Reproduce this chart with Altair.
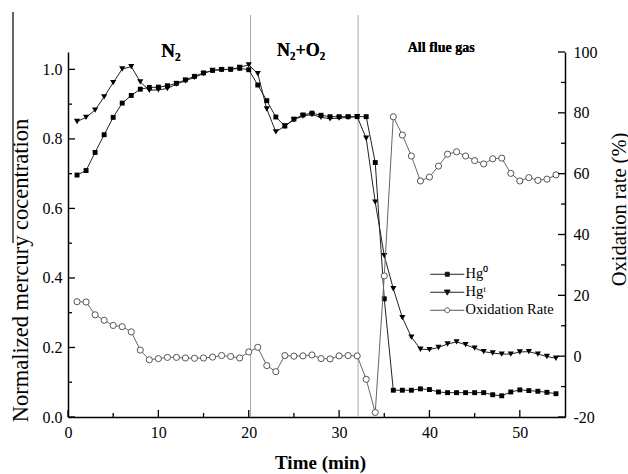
import altair as alt
import pandas as pd

# ---------------- data ----------------
time = list(range(1, 55))
hg0 = [0.696, 0.709, 0.761, 0.812, 0.862, 0.903, 0.925, 0.943, 0.948, 0.949,
       0.953, 0.960, 0.970, 0.980, 0.990, 0.997, 1.000, 1.000, 1.003, 0.999,
       0.955, 0.910, 0.863, 0.837, 0.857, 0.869, 0.874, 0.868, 0.864, 0.864,
       0.864, 0.864, 0.864, 0.732, 0.340, 0.077, 0.077, 0.077, 0.081, 0.079,
       0.072, 0.070, 0.070, 0.070, 0.070, 0.070, 0.064, 0.061, 0.072, 0.078,
       0.076, 0.074, 0.071, 0.067]
hgt = [0.850, 0.862, 0.883, 0.921, 0.962, 1.001, 1.008, 0.964, 0.940, 0.941,
       0.945, 0.958, 0.967, 0.977, 0.988, 0.997, 0.999, 1.000, 1.006, 1.013,
       0.988, 0.886, 0.820, 0.837, 0.855, 0.866, 0.870, 0.862, 0.858, 0.860,
       0.862, 0.864, 0.802, 0.618, 0.464, 0.369, 0.286, 0.230, 0.195, 0.194,
       0.200, 0.210, 0.216, 0.208, 0.198, 0.188, 0.184, 0.181, 0.181, 0.187,
       0.188, 0.181, 0.174, 0.169]
ox = [17.9, 17.8, 13.6, 11.8, 10.1, 9.7, 8.0, 2.0, -1.2, -0.8,
      -0.4, -0.4, -0.6, -0.7, -0.6, -0.3, 0.2, -0.1, -0.6, 1.4,
      2.9, -3.1, -5.1, 0.2, 0.0, 0.1, 0.4, -0.8, -0.9, 0.1,
      0.2, 0.1, -7.6, -18.5, 26.4, 78.7, 72.7, 65.8, 57.6, 58.9,
      62.5, 66.4, 67.2, 65.8, 64.3, 63.2, 64.9, 65.1, 60.1, 57.6,
      58.7, 57.8, 58.2, 59.6]

series_names = ["Hg\u2070", "Hg\u1d57", "Oxidation Rate"]
x_major = [0, 10, 20, 30, 40, 50]
x_minor = [5, 15, 25, 35, 45]
left_major = [0.0, 0.2, 0.4, 0.6, 0.8, 1.0]
left_minor = [0.1, 0.3, 0.5, 0.7, 0.9]
right_major = [-20, 0, 20, 40, 60, 80, 100]
right_minor = [-10, 10, 30, 50, 70, 90]
phase_bounds = [20.2, 32.1]
phase_labels = ["N\u2082", "N\u2082+O\u2082", "All flue gas"]

# ---------------- tables ----------------
df_hg0 = pd.DataFrame({"time": time, "value": hg0, "series": series_names[0]})
df_hgt = pd.DataFrame({"time": time, "value": hgt, "series": series_names[1]})
df_hg = pd.concat([df_hg0, df_hgt], ignore_index=True)
df_ox = pd.DataFrame({"time": time, "rate": ox})
df_bounds = pd.DataFrame({"time": phase_bounds})
df_xmaj = pd.DataFrame({"time": x_major})
df_xmin = pd.DataFrame({"time": x_minor})
df_lmaj = pd.DataFrame({"value": left_major})
df_lmin = pd.DataFrame({"value": left_minor})
df_rmaj = pd.DataFrame({"rate": right_major})
df_rmin = pd.DataFrame({"rate": right_minor})

W, H = 497, 365
FONT = "Liberation Serif, Times New Roman, serif"
MAJ, MIN = 7, 4

x_enc = alt.X(
    "time:Q",
    scale=alt.Scale(domain=[0, 55], nice=False, zero=False),
    axis=alt.Axis(values=x_major, title="Time (min)", titleFontWeight="bold",
                  titleFont=FONT, labelFont=FONT,
                  titleFontSize=19, titleX=252, titleY=45, titleAlign="center",
                  titleBaseline="middle", labelPadding=7, labelFontSize=16,
                  labelFlush=False),
)
yl_enc = alt.Y(
    "value:Q",
    scale=alt.Scale(domain=[0, 1.05], nice=False, zero=False),
    axis=alt.Axis(orient="left", values=left_major, format=".1f",
                  titleFont=FONT, labelFont=FONT,
                  title="Normalized mercury cocentration", titleFontWeight="normal",
                  titleFontSize=22.5, titleAngle=270, titleX=-48, titleY=218,
                  titleAlign="center", titleBaseline="middle",
                  labelPadding=6, labelFontSize=16),
)
yr_enc = alt.Y(
    "rate:Q",
    scale=alt.Scale(domain=[-20, 100], nice=False, zero=False),
    axis=alt.Axis(orient="right", values=right_major, labelExpr="'' + datum.value",
                  titleFont=FONT, labelFont=FONT,
                  title="Oxidation rate (%)", titleFontWeight="normal",
                  titleFontSize=20.5, titleAngle=270, titleX=54, titleY=157,
                  titleAlign="center", titleBaseline="middle",
                  labelPadding=8, labelFontSize=16),
)

# legend glyphs: a 34 px line with the marker in its middle (symbol size 10 px)
sym_sq = "M-3.4,0L3.4,0M-0.4,-0.4L0.4,-0.4L0.4,0.4L-0.4,0.4Z"
sym_tri = "M-3.4,0L3.4,0M-0.58,-0.45L0.58,-0.45L0,0.58Z"
sym_circ = ("M-3.4,0L-0.5,0M0.5,0L3.4,0M0.5,0A0.5,0.5 0 1,1 -0.5,0"
            "A0.5,0.5 0 1,1 0.5,0Z")

leg = alt.Legend(orient="none", legendX=372, legendY=215, title=None,
                 labelFont=FONT, labelFontSize=14.5, labelColor="black",
                 symbolSize=100, symbolStrokeWidth=1, gridAlign="all",
                 symbolOpacity=1, labelOffset=11, padding=0, rowPadding=3)

# ---------------- left layers ----------------
hg_lines = alt.Chart(df_hg).mark_line(color="#222", strokeWidth=1).encode(
    x=x_enc, y=yl_enc, detail="series:N")
hg0_pts = alt.Chart(df_hg0).mark_point(shape="square", filled=True, color="black",
                                       size=24, opacity=1).encode(x=x_enc, y=yl_enc)
hgt_pts = alt.Chart(df_hgt).mark_point(shape="triangle-down", filled=True,
                                       color="black", size=38, opacity=1).encode(
    x=x_enc, y=yl_enc)
# legend-only layer: no rows drawn, entries come from the explicit scale domain
legend_layer = alt.Chart(df_hg).transform_filter("datum.time < 0").mark_point(
    filled=True, strokeWidth=1, opacity=1).encode(
    x=x_enc, y=yl_enc,
    shape=alt.Shape("series:N", scale=alt.Scale(domain=series_names,
                                                  range=[sym_sq, sym_tri, sym_circ]),
                    legend=leg),
    fill=alt.Fill("series:N", scale=alt.Scale(domain=series_names,
                                                range=["black", "black", "white"]),
                  legend=leg),
    stroke=alt.Stroke("series:N", scale=alt.Scale(domain=series_names,
                                                    range=["#222", "#222", "#555"]),
                      legend=leg),
)
bounds = alt.Chart(df_bounds).mark_rule(color="#a8a8a8", strokeWidth=1).encode(
    x=x_enc, y=alt.value(-37), y2=alt.value(H))
xt_maj = alt.Chart(df_xmaj).mark_rule(color="black", strokeWidth=1.3).encode(
    x=x_enc, y=alt.value(H), y2=alt.value(H - MAJ))
xt_min = alt.Chart(df_xmin).mark_rule(color="black", strokeWidth=1.3).encode(
    x=x_enc, y=alt.value(H), y2=alt.value(H - MIN))
lt_maj = alt.Chart(df_lmaj).mark_rule(color="black", strokeWidth=1.3).encode(
    y=yl_enc, x=alt.value(0), x2=alt.value(MAJ))
lt_min = alt.Chart(df_lmin).mark_rule(color="black", strokeWidth=1.3).encode(
    y=yl_enc, x=alt.value(0), x2=alt.value(MIN))
ann1 = alt.Chart(df_bounds).mark_text(text=phase_labels[0], font=FONT, fontSize=19,
                                      fontWeight="bold", color="black",
                                      align="center", baseline="alphabetic").encode(
    x=alt.datum(11.4), y=alt.datum(1.035))
ann2 = alt.Chart(df_bounds).mark_text(text=phase_labels[1], font=FONT, fontSize=18,
                                      fontWeight="bold", color="black",
                                      align="center", baseline="alphabetic").encode(
    x=alt.datum(25.8), y=alt.datum(1.038))
ann3 = alt.Chart(df_bounds).mark_text(text=phase_labels[2], font=FONT, fontSize=14,
                                      fontWeight="bold", color="black",
                                      align="center", baseline="alphabetic").encode(
    x=alt.datum(41.3), y=alt.datum(1.05))
stray = alt.Chart(df_bounds).mark_rule(color="#333", strokeWidth=1).encode(
    x=alt.value(-55), y=alt.value(-40), y2=alt.value(191))

left = alt.layer(bounds, stray, hg_lines, hg0_pts, hgt_pts, legend_layer,
                 xt_maj, xt_min, lt_maj, lt_min, ann1, ann2, ann3)

# ---------------- right layers ----------------
ox_line = alt.Chart(df_ox).mark_line(color="#666", strokeWidth=1).encode(x=x_enc, y=yr_enc)
ox_pts = alt.Chart(df_ox).mark_point(shape="circle", filled=True, fill="white",
                                     stroke="#555", strokeWidth=1, size=38,
                                     opacity=1).encode(x=x_enc, y=yr_enc)
rt_maj = alt.Chart(df_rmaj).mark_rule(color="black", strokeWidth=1.3).encode(
    y=yr_enc, x=alt.value(W), x2=alt.value(W - MAJ))
rt_min = alt.Chart(df_rmin).mark_rule(color="black", strokeWidth=1.3).encode(
    y=yr_enc, x=alt.value(W), x2=alt.value(W - MIN))

right = alt.layer(ox_line, ox_pts, rt_maj, rt_min)

chart = (
    alt.layer(left, right)
    .resolve_scale(y="independent")
    .properties(width=W, height=H, autosize=alt.AutoSizeParams(type="none"),
                padding={"left": 68, "top": 52, "right": 628 - 68 - W,
                         "bottom": 474 - 52 - H},
                background="white")
    .configure_view(stroke=None)
    .configure_axis(grid=False, ticks=False, tickSize=0, domainColor="black",
                    domainWidth=1.5, labelFont=FONT, labelColor="black",
                    titleFont=FONT, titleColor="black")
)

chart.save("out.html", embed_options={"renderer": "svg", "actions": False})
